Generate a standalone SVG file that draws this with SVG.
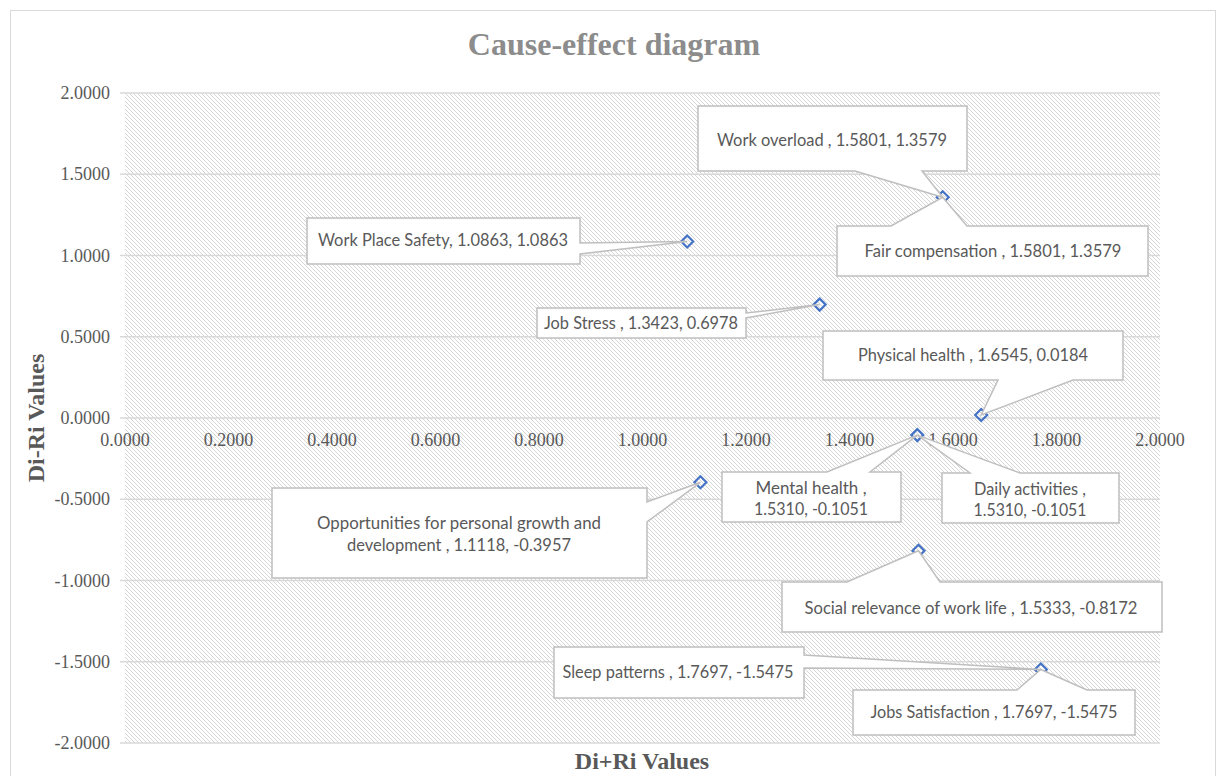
<svg xmlns="http://www.w3.org/2000/svg" width="1218" height="776" viewBox="0 0 1218 776">
  <defs>
    <!-- light downward diagonal fill of the plot area -->
    <pattern id="hatch" patternUnits="userSpaceOnUse" width="4" height="4">
      <path d="M0,0 L4,4 M-1,3 L1,5 M3,-1 L5,1" stroke="#d4d4d4" stroke-width="0.95"/>
    </pattern>
    <path id="diamond" d="M0,-6 L6,0 L0,6 L-6,0 Z"/>
  </defs>
  <style>
    .title { font-family: "Liberation Serif", "Times New Roman", serif; font-weight: bold; font-size: 32px; fill: #8c8c8c; text-anchor: middle; }
    .axis-title { font-family: "Liberation Serif", "Times New Roman", serif; font-weight: bold; font-size: 24px; fill: #595959; text-anchor: middle; }
    .tick { font-family: "Liberation Serif", "Times New Roman", serif; font-size: 18px; fill: #595959; }
    .tick-y { text-anchor: end; }
    .tick-x { text-anchor: middle; }
    .grid line { stroke: #d9d9d9; stroke-width: 1.5; }
    .marker use { fill: none; stroke: #4472c4; stroke-width: 2.2; }
    .callout path { fill: #ffffff; stroke: #bfbfbf; stroke-width: 1.5; stroke-linejoin: miter; }
    .callout text { font-family: Lato, "Liberation Sans", sans-serif; font-size: 16.5px; fill: #595959; text-anchor: middle; }
  </style>

  <!-- chart frame -->
  <rect x="0" y="0" width="1218" height="776" fill="#ffffff"/>
  <rect x="10.5" y="10.5" width="1205" height="780" fill="none" stroke="#d9d9d9" stroke-width="1"/>

  <text class="title" x="614" y="55">Cause-effect diagram</text>

  <!-- plot area -->
  <rect x="125" y="93" width="1035" height="650" fill="url(#hatch)"/>
  <g class="grid">
    <line x1="120" y1="93" x2="1160" y2="93"/>
    <line x1="120" y1="174.25" x2="1160" y2="174.25"/>
    <line x1="120" y1="255.5" x2="1160" y2="255.5"/>
    <line x1="120" y1="336.75" x2="1160" y2="336.75"/>
    <line x1="120" y1="418" x2="1160" y2="418"/>
    <line x1="120" y1="499.25" x2="1160" y2="499.25"/>
    <line x1="120" y1="580.5" x2="1160" y2="580.5"/>
    <line x1="120" y1="661.75" x2="1160" y2="661.75"/>
    <line x1="120" y1="743" x2="1160" y2="743"/>
  </g>

  <!-- vertical axis labels -->
  <g class="tick tick-y">
    <text x="110" y="99">2.0000</text>
    <text x="110" y="180">1.5000</text>
    <text x="110" y="261.5">1.0000</text>
    <text x="110" y="343">0.5000</text>
    <text x="110" y="424">0.0000</text>
    <text x="110" y="505">-0.5000</text>
    <text x="110" y="586.5">-1.0000</text>
    <text x="110" y="668">-1.5000</text>
    <text x="110" y="749">-2.0000</text>
  </g>
  <!-- horizontal axis labels -->
  <g class="tick tick-x">
    <text x="125" y="446">0.0000</text>
    <text x="228.5" y="446">0.2000</text>
    <text x="332" y="446">0.4000</text>
    <text x="435.5" y="446">0.6000</text>
    <text x="539" y="446">0.8000</text>
    <text x="642.5" y="446">1.0000</text>
    <text x="746" y="446">1.2000</text>
    <text x="849.5" y="446">1.4000</text>
    <text x="953" y="446">1.6000</text>
    <text x="1056.5" y="446">1.8000</text>
    <text x="1160" y="446">2.0000</text>
  </g>

  <text class="axis-title" x="642" y="769">Di+Ri Values</text>
  <text class="axis-title" transform="translate(44,418) rotate(-90)">Di-Ri Values</text>

  <!-- data points -->
  <g class="marker" id="points">
    <use href="#diamond" x="942.7" y="197.3"/>
    <use href="#diamond" x="687.2" y="241.5"/>
    <use href="#diamond" x="819.6" y="304.6"/>
    <use href="#diamond" x="981.2" y="415"/>
    <use href="#diamond" x="917.3" y="435.1"/>
    <use href="#diamond" x="700.4" y="482.3"/>
    <use href="#diamond" x="918.5" y="550.8"/>
    <use href="#diamond" x="1040.8" y="669.5"/>
  </g>

  <!-- data label callouts, each box carries its pointer wedge -->
  <g id="connectors" class="callout">
    <g id="work-overload">
      <path d="M698,106 H967 V171 H922 L942.7,197.3 L855,171 H698 Z"/>
      <text x="832" y="146" textLength="230" lengthAdjust="spacingAndGlyphs">Work overload , 1.5801, 1.3579</text>
    </g>
    <g id="fair-compensation">
      <path d="M837,226 H891 L942.7,197.3 L967,226 H1148 V276 H837 Z"/>
      <text x="993" y="257" textLength="257" lengthAdjust="spacingAndGlyphs">Fair compensation , 1.5801, 1.3579</text>
    </g>
    <g id="work-place-safety">
      <path d="M307,218 H580 V243 L687.2,241.5 L580,254 V264 H307 Z"/>
      <text x="443" y="246" textLength="250" lengthAdjust="spacingAndGlyphs">Work Place Safety, 1.0863, 1.0863</text>
    </g>
    <g id="job-stress">
      <path d="M537,308 H746 V313 L819.6,304.6 L746,318 V338 H537 Z"/>
      <text x="641" y="329" textLength="194" lengthAdjust="spacingAndGlyphs">Job Stress , 1.3423, 0.6978</text>
    </g>
    <g id="physical-health">
      <path d="M823,331 H1123 V380 H1073 L981.2,415 L998,380 H823 Z"/>
      <text x="973" y="361" textLength="230" lengthAdjust="spacingAndGlyphs">Physical health , 1.6545, 0.0184</text>
    </g>
    <g id="mental-health">
      <path d="M722,472 H827 L917.3,435.1 L870,472 H901 V522 H722 Z"/>
      <text x="811" y="494" textLength="111" lengthAdjust="spacingAndGlyphs">Mental health ,</text>
      <text x="811" y="515" textLength="114" lengthAdjust="spacingAndGlyphs">1.5310, -0.1051</text>
    </g>
    <g id="daily-activities">
      <path d="M942,473 H970 L917.3,435.1 L1020,473 H1119 V523 H942 Z"/>
      <text x="1030" y="495" textLength="112" lengthAdjust="spacingAndGlyphs">Daily activities ,</text>
      <text x="1030" y="516" textLength="113" lengthAdjust="spacingAndGlyphs">1.5310, -0.1051</text>
    </g>
    <g id="personal-growth">
      <path d="M272,488 H647 V502 L700.4,482.3 L647,522 V578 H272 Z"/>
      <text x="459" y="529" textLength="284" lengthAdjust="spacingAndGlyphs">Opportunities for personal growth and</text>
      <text x="459" y="551" textLength="224" lengthAdjust="spacingAndGlyphs">development , 1.1118, -0.3957</text>
    </g>
    <g id="social-relevance">
      <path d="M782,582 H847 L918.5,550.8 L940,582 H1162 V632 H782 Z"/>
      <text x="971" y="614" textLength="333" lengthAdjust="spacingAndGlyphs">Social relevance of work life , 1.5333, -0.8172</text>
    </g>
    <g id="sleep-patterns">
      <path d="M554,647 H804 V655 L1040.8,669.5 L804,668 V698 H554 Z"/>
      <text x="678" y="678" textLength="231" lengthAdjust="spacingAndGlyphs">Sleep patterns , 1.7697, -1.5475</text>
    </g>
    <g id="jobs-satisfaction">
      <path d="M853,690 H1017 L1040.8,669.5 L1087,690 H1135 V735 H853 Z"/>
      <text x="994" y="718" textLength="247" lengthAdjust="spacingAndGlyphs">Jobs Satisfaction , 1.7697, -1.5475</text>
    </g>
  </g>
</svg>
